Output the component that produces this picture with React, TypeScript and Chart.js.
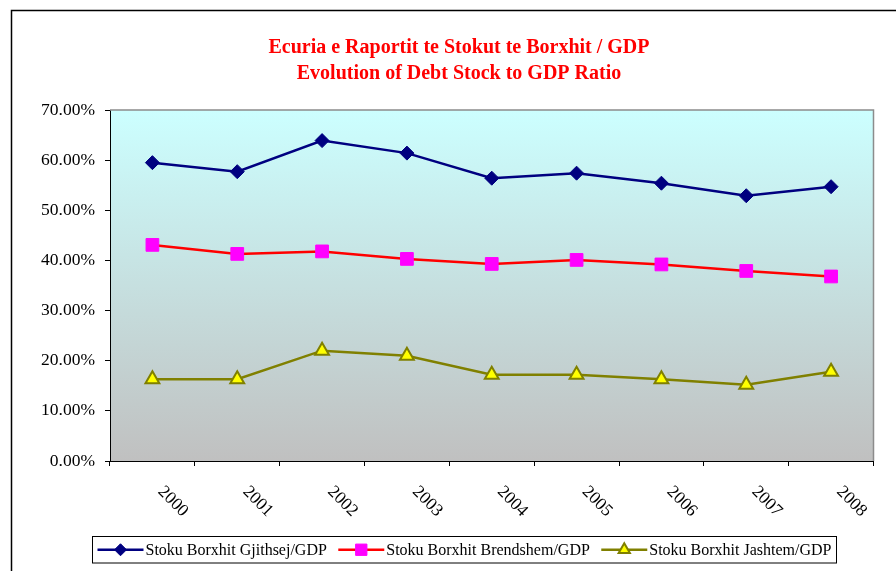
import { useEffect, useRef } from 'react';
import { Chart, registerables } from 'chart.js';
import { drawPoint } from 'chart.js/helpers';

Chart.register(...registerables);

const categories = ['2000', '2001', '2002', '2003', '2004', '2005', '2006', '2007', '2008'];
const totalDebt = [59.5, 57.7, 63.9, 61.4, 56.4, 57.4, 55.4, 52.9, 54.7];
const domesticDebt = [43.1, 41.3, 41.8, 40.3, 39.3, 40.1, 39.2, 37.9, 36.8];
const externalDebt = [16.3, 16.3, 22.0, 21.0, 17.2, 17.2, 16.3, 15.2, 17.8];
const seriesNames = ['Stoku Borxhit Gjithsej/GDP', 'Stoku Borxhit Brendshem/GDP', 'Stoku Borxhit Jashtem/GDP'];
const titleLines = ['Ecuria e Raportit te Stokut te Borxhit / GDP', 'Evolution of Debt Stock to GDP Ratio'];
const yMin = 0;
const yMax = 70;
const yStep = 10;

const FONT = '"Liberation Serif", "Times New Roman", serif';

const decorPlugin = {
  id: 'decor',
  beforeDraw(chart: any) {
    const { ctx, chartArea: a, width, height } = chart;
    ctx.save();
    ctx.fillStyle = '#ffffff';
    ctx.fillRect(0, 0, width, height);
    ctx.strokeStyle = '#000000';
    ctx.lineWidth = 1.5;
    ctx.strokeRect(11.5, 10.5, width + 20, height + 20);
    const g = ctx.createLinearGradient(0, a.top, 0, a.bottom);
    g.addColorStop(0, '#ccffff');
    g.addColorStop(1, '#c0c0c0');
    ctx.fillStyle = g;
    ctx.fillRect(a.left, a.top, a.right - a.left, a.bottom - a.top);
    ctx.restore();
  },
  beforeDatasetsDraw(chart: any) {
    const { ctx, chartArea: a } = chart;
    ctx.save();
    ctx.strokeStyle = '#8c8c8c';
    ctx.lineWidth = 1.5;
    ctx.beginPath();
    ctx.moveTo(a.left, a.top);
    ctx.lineTo(a.right, a.top);
    ctx.lineTo(a.right, a.bottom);
    ctx.stroke();
    ctx.restore();
  },
  afterDraw(chart: any) {
    const { ctx } = chart;
    ctx.save();
    // title
    ctx.fillStyle = '#ff0000';
    ctx.font = `bold 20px ${FONT}`;
    ctx.textAlign = 'center';
    ctx.textBaseline = 'middle';
    ctx.fillText(titleLines[0], 459, 48);
    ctx.fillText(titleLines[1], 459, 74);

    // x labels rotated clockwise
    const xs = chart.scales.x;
    ctx.fillStyle = '#000000';
    ctx.font = `17.5px ${FONT}`;
    xs.ticks.forEach((t: any, i: number) => {
      const x = xs.getPixelForTick(i);
      const label = xs.getLabelForValue(t.value);
      ctx.save();
      ctx.translate(x + 20.5, xs.top + 40.5);
      ctx.rotate(Math.PI / 4);
      ctx.textAlign = 'center';
      ctx.textBaseline = 'middle';
      ctx.fillText(String(label), 0, 0);
      ctx.restore();
    });

    // legend
    const boxL = 92.5, boxT = 536.5, boxR = 836.5, boxB = 563;
    ctx.fillStyle = '#ffffff';
    ctx.fillRect(boxL, boxT, boxR - boxL, boxB - boxT);
    ctx.strokeStyle = '#000000';
    ctx.lineWidth = 1;
    ctx.strokeRect(boxL, boxT, boxR - boxL, boxB - boxT);
    ctx.font = `16px ${FONT}`;
    const lineLen = 46;
    const gapLT = 2;
    const pad = 5;
    const widths = chart.data.datasets.map((d: any) => ctx.measureText(d.label).width);
    const content = widths.reduce((s: number, w: number) => s + w, 0) + 3 * (lineLen + gapLT);
    const gap = (boxR - boxL - 2 * pad - content) / 2;
    let cx = boxL + pad;
    const cy = (boxT + boxB) / 2;
    chart.data.datasets.forEach((d: any, i: number) => {
      ctx.strokeStyle = d.borderColor;
      ctx.lineWidth = d.borderWidth;
      ctx.beginPath();
      ctx.moveTo(cx, cy);
      ctx.lineTo(cx + lineLen, cy);
      ctx.stroke();
      ctx.fillStyle = d.pointBackgroundColor;
      ctx.strokeStyle = d.pointBorderColor;
      ctx.lineWidth = d.pointBorderWidth;
      drawPoint(ctx, { pointStyle: d.pointStyle, radius: d.legendRadius, rotation: 0, borderWidth: d.pointBorderWidth } as any, cx + lineLen / 2, cy);
      ctx.fillStyle = '#000000';
      ctx.textAlign = 'left';
      ctx.textBaseline = 'middle';
      ctx.fillText(d.label, cx + lineLen + gapLT, cy + 1);
      cx += lineLen + gapLT + widths[i] + gap;
    });
    ctx.restore();
  },
};

export default function App() {
  const ref = useRef<HTMLCanvasElement | null>(null);
  useEffect(() => {
    document.body.style.margin = '0';
    if (!ref.current) return;
    const chart = new Chart(ref.current, {
      type: 'line',
      data: {
        labels: categories,
        datasets: [
          {
            label: seriesNames[0],
            data: totalDebt,
            borderColor: '#000080',
            borderWidth: 2.5,
            pointStyle: 'rectRot',
            pointRadius: 7,
            pointBackgroundColor: '#000080',
            pointBorderColor: '#000080',
            pointBorderWidth: 1,
            legendRadius: 6,
          } as any,
          {
            label: seriesNames[1],
            data: domesticDebt,
            borderColor: '#ff0000',
            borderWidth: 2.5,
            pointStyle: 'rect',
            pointRadius: 9,
            pointBackgroundColor: '#ff00ff',
            pointBorderColor: '#ff00ff',
            pointBorderWidth: 1,
            legendRadius: 8,
          } as any,
          {
            label: seriesNames[2],
            data: externalDebt,
            borderColor: '#808000',
            borderWidth: 2.5,
            pointStyle: 'triangle',
            pointRadius: 8,
            pointBackgroundColor: '#ffff00',
            pointBorderColor: '#808000',
            pointBorderWidth: 2,
            legendRadius: 6.5,
          } as any,
        ],
      },
      options: {
        animation: false,
        responsive: false,
        maintainAspectRatio: false,
        layout: { padding: { left: 40, right: 22.5, top: 110, bottom: 50 } },
        plugins: {
          legend: { display: false },
          title: { display: false },
          tooltip: { enabled: false },
        },
        elements: { line: { tension: 0 } },
        scales: {
          x: {
            type: 'category',
            offset: true,
            grid: { offset: true, drawOnChartArea: false, drawTicks: true, tickLength: 5, color: '#000000', lineWidth: 1 },
            border: { display: true, color: '#000000', width: 1 },
            ticks: { display: false },
            afterFit: (s: any) => { s.height = 60; },
          },
          y: {
            min: yMin,
            max: yMax,
            ticks: {
              stepSize: yStep,
              color: '#000000',
              padding: 10,
              font: { family: FONT, size: 17.5 },
              callback: (v: any) => Number(v).toFixed(2) + '%',
            },
            grid: { drawOnChartArea: false, drawTicks: true, tickLength: 5, color: '#000000', lineWidth: 1 },
            border: { display: true, color: '#000000', width: 1 },
            afterFit: (s: any) => { s.width = 70; },
          },
        },
      },
      plugins: [decorPlugin],
    });
    return () => chart.destroy();
  }, []);
  return (
    <div style={{ position: 'relative', width: 896, height: 571 }}>
      <canvas ref={ref} width={896} height={571} style={{ display: 'block', width: 896, height: 571 }} />
    </div>
  );
}
